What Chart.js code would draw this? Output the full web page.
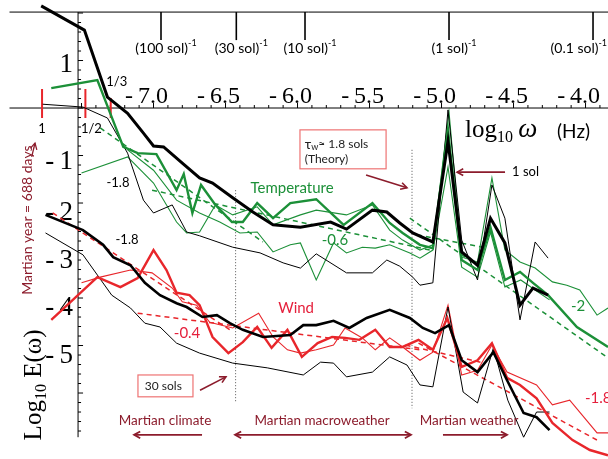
<!DOCTYPE html>
<html>
<head>
<meta charset="utf-8">
<script src="https://cdn.jsdelivr.net/npm/chart.js@4.4.0/dist/chart.umd.min.js"></script>
<style>
  html, body { margin: 0; padding: 0; background: #fff; }
  #spectra { display: block; }
</style>
</head>
<body>
<canvas id="spectra" width="608" height="459"></canvas>
<script>
// x = log10 omega (Hz), y = log10 E(omega)

// temperature spectra
const tempBlackX = [-7.78,-7.48,-7.32,-7.18,-7.07,-7.0,-6.93,-6.8,-6.68,-6.59,-6.45,-6.31,-6.17,-5.98,-5.77,-5.66,-5.48,-5.38,-5.29,-5.2,-5.06,-4.955,-4.86,-4.75,-4.66,-4.56,-4.455,-4.365,-4.26];
const tempBlackY = [2.15,1.64,0.23,-0.11,-0.53,-0.8,-0.82,-1.16,-1.47,-1.58,-1.89,-2.19,-2.46,-2.51,-2.4,-2.55,-2.15,-2.19,-2.42,-2.63,-2.82,-0.7,-3.03,-3.31,-2.32,-2.84,-4.15,-3.79,-3.94];
const tempBlackThinX = [-7.77,-7.49,-7.32,-7.18,-7.07,-7.0,-6.87,-6.77,-6.68,-6.45,-6.26,-6.1,-5.98,-5.87,-5.66,-5.48,-5.38,-5.29,-5.2,-5.15,-5.06,-4.955,-4.86,-4.75,-4.65,-4.56,-4.455,-4.35,-4.26];
const tempBlackThinY = [0.08,0.02,-0.21,-0.95,-1.94,-2.21,-2.04,-2.61,-2.69,-2.93,-3.05,-3.26,-3.37,-3.07,-3.47,-3.47,-3.2,-3.33,-3.56,-3.73,-3.68,-0.04,-2.78,-3.62,-1.62,-2.32,-4.46,-2.82,-3.16];
const tempGreenX = [-7.71,-7.39,-7.21,-7.11,-6.98,-6.84,-6.79,-6.73,-6.67,-6.57,-6.455,-6.38,-6.28,-6.17,-6.05,-5.87,-5.68,-5.48,-5.36,-5.27,-5.15,-5.06,-4.955,-4.86,-4.75,-4.66,-4.56,-4.455,-4.365,-4.26,-4.06,-3.844];
const tempGreenY = [0.42,0.59,-0.82,-0.95,-0.97,-1.73,-1.39,-2.21,-1.62,-2.04,-2.4,-2.4,-2.0,-2.32,-2.0,-1.92,-2.46,-2.0,-2.42,-2.63,-2.88,-2.95,-0.46,-3.2,-3.41,-2.51,-3.62,-3.45,-3.68,-3.94,-4.61,-5.03];
const tempGreenAX = [-7.5,-7.18,-7.0,-6.84,-6.77,-6.68,-6.57,-6.45,-6.28,-6.17,-5.98,-5.87,-5.66,-5.48,-5.36,-5.27,-5.15,-5.06,-4.948,-4.86,-4.75,-4.65,-4.56,-4.455,-4.35,-4.23,-4.13,-4.04,-3.92,-3.844];
const tempGreenAY = [-1.37,-1.03,-1.58,-2.4,-2.63,-2.61,-2.04,-2.25,-2.08,-2.46,-2.25,-2.15,-2.25,-2.04,-2.57,-2.78,-2.99,-2.88,-0.08,-3.14,-3.24,-1.47,-2.99,-3.24,-3.37,-3.66,-3.73,-3.83,-4.36,-4.21];
const tempGreenBX = [-7.18,-7.0,-6.84,-6.68,-6.54,-6.4,-6.28,-6.17,-6.05,-5.98,-5.87,-5.75,-5.66,-5.55,-5.46,-5.36,-5.22,-5.15,-5.06,-4.955,-4.86,-4.75,-4.66,-4.56,-4.45,-4.35,-4.25];
const tempGreenBY = [-0.88,-1.31,-1.94,-2.21,-2.4,-2.63,-2.61,-3.03,-2.88,-2.84,-3.62,-2.84,-3.05,-2.93,-2.95,-2.88,-3.05,-3.16,-2.99,-1.24,-3.35,-3.56,-2.61,-3.77,-3.62,-3.83,-4.04];

// temperature power-law fits (end points)
const tempFit1X = [-7.37,-6.24], tempFit1Y = [-0.42,-2.82];
const tempFit2X = [-7.01,-5.08], tempFit2Y = [-1.73,-2.99];
const tempFit3X = [-5.22,-3.844], tempFit3Y = [-2.32,-5.26];
const tempFit4X = [-5.17,-4.68], tempFit4Y = [-2.67,-2.95];

// wind spectra
const windBlackX = [-7.75,-7.49,-7.35,-7.28,-7.16,-7.06,-6.955,-6.84,-6.77,-6.66,-6.56,-6.47,-6.38,-6.24,-6.05,-5.96,-5.87,-5.75,-5.64,-5.52,-5.36,-5.22,-5.13,-5.045,-4.948,-4.86,-4.75,-4.64,-4.545,-4.43,-4.34,-4.25];
const windBlackY = [-2.25,-2.57,-2.88,-3.14,-3.31,-3.68,-3.94,-4.11,-4.19,-4.4,-4.36,-4.53,-4.67,-4.82,-4.78,-4.57,-4.57,-4.48,-4.63,-4.42,-4.25,-4.42,-4.63,-4.74,-4.57,-5.31,-5.56,-5.14,-5.73,-6.42,-6.51,-6.78];
const windBlackThinX = [-7.75,-7.49,-7.29,-7.16,-7.06,-6.955,-6.84,-6.68,-6.45,-6.21,-5.96,-5.84,-5.75,-5.66,-5.48,-5.36,-5.24,-5.15,-5.06,-4.955,-4.85,-4.75,-4.64,-4.54,-4.43,-4.34,-4.25];
const windBlackThinY = [-2.63,-3.09,-3.94,-4.21,-4.53,-4.61,-4.95,-5.16,-5.37,-5.47,-5.62,-5.35,-5.37,-5.66,-5.56,-5.24,-5.41,-5.83,-5.87,-4.19,-5.98,-6.21,-5.05,-6.15,-6.93,-6.4,-6.4];
const windRedX = [-7.71,-7.39,-7.23,-7.11,-7.0,-6.91,-6.84,-6.75,-6.68,-6.59,-6.48,-6.38,-6.28,-6.18,-6.07,-5.97,-5.86,-5.76,-5.67,-5.57,-5.46,-5.36,-5.27,-5.16,-5.06,-4.96,-4.86,-4.75,-4.65,-4.545,-4.455,-4.34,-4.23,-4.09,-3.97,-3.844];
const windRedY = [-4.46,-3.56,-3.77,-3.58,-2.99,-3.41,-3.89,-3.94,-4.15,-4.82,-5.16,-4.93,-4.61,-5.05,-4.67,-5.24,-4.95,-4.82,-4.84,-4.88,-4.67,-5.03,-5.03,-4.88,-5.09,-4.42,-5.45,-5.31,-4.95,-5.68,-5.83,-6.11,-6.63,-6.99,-7.2,-7.31];
const windRedThinX = [-7.5,-7.37,-7.16,-7.01,-6.87,-6.8,-6.7,-6.61,-6.45,-6.27,-6.17,-6.07,-5.98,-5.87,-5.75,-5.67,-5.55,-5.46,-5.36,-5.27,-5.15,-5.06,-4.955,-4.86,-4.75,-4.65,-4.545,-4.34,-4.23,-4.11,-3.92,-3.844];
const windRedThinY = [-3.68,-3.56,-3.41,-3.47,-3.79,-4.08,-4.15,-4.51,-4.63,-4.32,-4.82,-5.09,-5.16,-5.09,-4.99,-4.63,-4.84,-5.09,-4.84,-5.03,-5.31,-5.14,-4.15,-5.62,-5.52,-4.99,-5.56,-5.83,-6.25,-6.15,-6.84,-6.84];

// wind power-law fits (end points)
const windFit1X = [-7.7,-6.47], windFit1Y = [-2.21,-4.67];
const windFit2X = [-7.11,-5.15], windFit2Y = [-4.32,-5.09];
const windFit3X = [-5.16,-3.92], windFit3Y = [-4.95,-6.99];
const windFit4X = [-5.25,-4.73], windFit4Y = [-4.99,-5.35];

// scale breaks (30 sols, theory 1.8 sols) and Martian year harmonics
const breakX = [-6.43, -5.205];
const breakTop = [-1.73, -0.88];
const breakBottom = [-6.21, -6.32];
const yearX = [-7.774, -7.473, -7.297];
const yearTop = [0.4, 0.4, 0.21];
const yearLabels = ['1', '1/2', '1/3'];

// axis ticks
const solTicks = [-6.948, -6.425, -5.948, -4.948, -3.948];
const solLabels = ['(100 sol)', '(30 sol)', '(10 sol)', '(1 sol)', '(0.1 sol)'];
const xTicks = [-7.0, -6.5, -6.0, -5.5, -5.0, -4.5, -4.0];
const yTicks = [1, -1, -2, -3, -4, -5];

const BLACK = '#000000';
const GREEN = '#1c9038';
const RED = '#e8262b';
const MAROON = '#8c1c2c';
const SERIF = '"Liberation Serif", "DejaVu Serif", serif';
const SANS = 'Lato, "Liberation Sans", sans-serif';

let pts = function(xs, ys) {
  return xs.map((x, i) => ({ x: x, y: ys[i] }));
};

let line = function(xs, ys, color, width, dash) {
  return {
    data: pts(xs, ys),
    showLine: true,
    borderColor: color,
    backgroundColor: color,
    borderWidth: width,
    borderDash: dash || [],
    pointRadius: 0,
    fill: false
  };
};

const datasets = [
  line(tempBlackX, tempBlackY, BLACK, 3),
  line(windBlackX, windBlackY, BLACK, 2.6),
  line(tempGreenX, tempGreenY, GREEN, 2.4),
  line(windRedX, windRedY, RED, 2.4),
  line(tempBlackThinX, tempBlackThinY, BLACK, 1),
  line(windBlackThinX, windBlackThinY, BLACK, 1),
  line(tempGreenAX, tempGreenAY, GREEN, 1.1),
  line(tempGreenBX, tempGreenBY, GREEN, 1.1),
  line(windRedThinX, windRedThinY, RED, 1.1),
  line(tempFit1X, tempFit1Y, GREEN, 1.5, [5, 4]),
  line(tempFit2X, tempFit2Y, GREEN, 1.5, [5, 4]),
  line(tempFit3X, tempFit3Y, GREEN, 1.5, [5, 4]),
  line(tempFit4X, tempFit4Y, GREEN, 1.5, [5, 4]),
  line(windFit1X, windFit1Y, RED, 1.5, [5, 4]),
  line(windFit2X, windFit2Y, RED, 1.5, [5, 4]),
  line(windFit3X, windFit3Y, RED, 1.5, [5, 4]),
  line(windFit4X, windFit4Y, RED, 1.5, [5, 4])
];
breakX.forEach((x, i) => {
  datasets.push(line([x, x], [breakTop[i], breakBottom[i]], '#555555', 1, [1, 2]));
});
yearX.forEach((x, i) => {
  datasets.push(line([x, x], [yearTop[i], -0.21], RED, 2));
});

let arrowHead = function(ctx, x, y, ang, size) {
  ctx.beginPath();
  ctx.moveTo(x - size * Math.cos(ang - 0.5), y - size * Math.sin(ang - 0.5));
  ctx.lineTo(x, y);
  ctx.lineTo(x - size * Math.cos(ang + 0.5), y - size * Math.sin(ang + 0.5));
  ctx.stroke();
};

let arrow = function(ctx, x1, y1, x2, y2, width, both) {
  ctx.save();
  ctx.strokeStyle = MAROON;
  ctx.lineWidth = width;
  ctx.beginPath();
  ctx.moveTo(x1, y1);
  ctx.lineTo(x2, y2);
  ctx.stroke();
  const ang = Math.atan2(y2 - y1, x2 - x1);
  arrowHead(ctx, x2, y2, ang, 7);
  if (both) arrowHead(ctx, x1, y1, ang + Math.PI, 7);
  ctx.restore();
};

// draws a run of text pieces [text, font, dy] starting at x
let runText = function(ctx, parts, x, y, align) {
  let total = 0;
  parts.forEach(p => { ctx.font = p[1]; total += ctx.measureText(p[0]).width; });
  let cx = align === 'center' ? x - total / 2 : (align === 'right' ? x - total : x);
  parts.forEach(p => {
    ctx.font = p[1];
    ctx.fillText(p[0], cx, y + (p[2] || 0));
    cx += ctx.measureText(p[0]).width;
  });
};

const figure = {
  id: 'figure',
  beforeDraw(chart) {
    const ctx = chart.ctx;
    ctx.save();
    ctx.fillStyle = '#ffffff';
    ctx.fillRect(0, 0, chart.width, chart.height);
    ctx.restore();
  },
  beforeDatasetsDraw(chart) {
    const ctx = chart.ctx;
    const sx = chart.scales.x, sy = chart.scales.y;
    const X = v => sx.getPixelForValue(v), Y = v => sy.getPixelForValue(v);
    ctx.save();
    ctx.strokeStyle = BLACK;
    ctx.fillStyle = BLACK;
    ctx.lineWidth = 1;

    // top frequency axis in sols
    ctx.beginPath();
    ctx.moveTo(X(-8.0), Y(2.02));
    ctx.lineTo(chart.width, Y(2.02));
    ctx.stroke();
    ctx.lineWidth = 1.6;
    solTicks.forEach((v, i) => {
      ctx.beginPath();
      ctx.moveTo(X(v), Y(2.02));
      ctx.lineTo(X(v), Y(1.43));
      ctx.stroke();
      ctx.textBaseline = 'middle';
      const last = i === solTicks.length - 1;
      const parts = [[solLabels[i], '14px ' + SANS, 0], ['-1', '9px ' + SANS, -5]];
      runText(ctx, parts, last ? chart.width - 1 : X(v) + 5, Y(1.26), last ? 'right' : 'center');
    });

    // x axis through y = 0
    ctx.lineWidth = 1;
    ctx.beginPath();
    ctx.moveTo(X(-8.0), Y(0));
    ctx.lineTo(chart.width, Y(0));
    ctx.stroke();
    for (let k = -75; k <= -39; k++) {
      const v = k / 10;
      const len = k % 5 === 0 ? 5 : 3;
      ctx.beginPath();
      ctx.moveTo(X(v), Y(0));
      ctx.lineTo(X(v), Y(0) - len);
      ctx.stroke();
    }
    ctx.textBaseline = 'middle';
    ctx.textAlign = 'center';
    ctx.font = '24px ' + SERIF;
    xTicks.forEach(v => {
      ctx.fillText('-\u2009' + Math.abs(v).toFixed(1), X(v) - 7, Y(0) - 11);
    });

    // y axis
    const ax = X(-7.524);
    ctx.beginPath();
    ctx.moveTo(ax, Y(2.02));
    ctx.lineTo(ax, Y(-6.93));
    ctx.stroke();
    for (let k = -34; k <= 10; k++) {
      const v = k / 5;
      const len = k % 5 === 0 ? 5 : 3;
      ctx.beginPath();
      ctx.moveTo(ax, Y(v));
      ctx.lineTo(ax + len, Y(v));
      ctx.stroke();
    }
    ctx.textAlign = 'right';
    ctx.font = '27px ' + SERIF;
    yTicks.forEach(v => {
      const txt = v < 0 ? '-\u2009' + Math.abs(v) : String(v);
      const nudge = v > 0 ? 4 : (v === -1 ? 6 : 10);
      ctx.fillText(txt, ax - 5, Y(v) + nudge);
    });
    ctx.restore();
  },
  afterDatasetsDraw(chart) {
    const ctx = chart.ctx;
    const sx = chart.scales.x, sy = chart.scales.y;
    const X = v => sx.getPixelForValue(v), Y = v => sy.getPixelForValue(v);
    ctx.save();
    ctx.textBaseline = 'middle';
    ctx.textAlign = 'left';

    // axis titles
    ctx.fillStyle = BLACK;
    ctx.textBaseline = 'alphabetic';
    runText(ctx, [['log', '25px ' + SERIF, 0], ['10', '16px ' + SERIF, 5], ['\u2009\u03c9', 'italic 27px ' + SERIF, 0]],
      X(-4.837), Y(-0.6), 'left');
    ctx.font = '19px ' + SANS;
    ctx.fillText('(Hz)', X(-4.198), Y(-0.63));

    ctx.save();
    ctx.translate(X(-7.837) + 8, Y(-5.83));
    ctx.rotate(-Math.PI / 2);
    runText(ctx, [['Log', '25px ' + SERIF, 0], ['10', '16px ' + SERIF, 5], [' E(\u03c9)', '25px ' + SERIF, 0]], 0, 0, 'center');
    ctx.restore();

    ctx.save();
    ctx.fillStyle = MAROON;
    ctx.translate(X(-7.879) + 5, Y(-2.36));
    ctx.rotate(-Math.PI / 2);
    ctx.font = '14px ' + SANS;
    ctx.textAlign = 'center';
    ctx.fillText('Martian year = 688 days', 0, 0);
    ctx.restore();
    arrow(ctx, X(-7.846), Y(-1.03), X(-7.823), Y(-0.74), 1.3, false);

    ctx.textBaseline = 'middle';
    ctx.textAlign = 'center';

    // harmonics labels
    ctx.fillStyle = BLACK;
    ctx.font = '13px ' + SANS;
    ctx.fillText(yearLabels[0], X(yearX[0]), Y(-0.44));
    ctx.fillText(yearLabels[1], X(yearX[1]) + 6, Y(-0.44));
    ctx.fillText(yearLabels[2], X(yearX[2]) + 6, Y(0.55));

    // slopes
    ctx.fillText('-1.8', X(-7.247), Y(-1.58));
    ctx.fillText('-1.8', X(-7.184), Y(-2.78));
    ctx.font = '15px ' + SANS;
    ctx.fillStyle = GREEN;
    ctx.fillText('Temperature', X(-6.038), Y(-1.68));
    ctx.fillText('-0.6', X(-5.74), Y(-2.78));
    ctx.fillText('-2', X(-4.052), Y(-4.17));
    ctx.fillStyle = '#e5203c';
    ctx.fillText('Wind', X(-6.01), Y(-4.21));
    ctx.fillText('-0.4', X(-6.767), Y(-4.74));
    ctx.textAlign = 'left';
    ctx.fillText('-1.8', X(-4.004), Y(-6.11));

    // 1 sol peak
    ctx.fillStyle = BLACK;
    ctx.font = '13px ' + SANS;
    ctx.fillText('1 sol', X(-4.51), Y(-1.35));
    arrow(ctx, X(-4.559), Y(-1.35), X(-4.892), Y(-1.35), 1.6, false);

    // theory box
    ctx.strokeStyle = '#ee7373';
    ctx.lineWidth = 1.2;
    ctx.strokeRect(X(-5.983), Y(-0.46), X(-5.385) - X(-5.983), Y(-1.28) - Y(-0.46));
    ctx.fillStyle = '#222222';
    runText(ctx, [['\u03c4', '14px ' + SANS, 0], ['w', '9px ' + SANS, 3], ['\u2248 1.8 sols', '12px ' + SANS, 0]],
      X(-5.95), Y(-0.77), 'left');
    ctx.font = '12px ' + SANS;
    ctx.fillText('(Theory)', X(-5.95), Y(-1.08));
    arrow(ctx, X(-5.524), Y(-1.41), X(-5.24), Y(-1.68), 1.6, false);

    // 30 sols box
    ctx.strokeStyle = '#ee7373';
    ctx.strokeRect(X(-7.108), Y(-5.62), X(-6.726) - X(-7.108), Y(-6.08) - Y(-5.62));
    ctx.fillStyle = '#222222';
    ctx.fillText('30 sols', X(-7.06), Y(-5.85));
    arrow(ctx, X(-6.677), Y(-5.94), X(-6.497), Y(-5.66), 1.6, false);

    // regimes
    ctx.fillStyle = MAROON;
    ctx.font = '13.5px ' + SANS;
    ctx.textAlign = 'center';
    ctx.fillText('Martian climate', X(-6.92), Y(-6.59));
    ctx.fillText('Martian macroweather', X(-5.83), Y(-6.59));
    ctx.fillText('Martian weather', X(-4.809), Y(-6.59));
    arrow(ctx, X(-6.663), Y(-6.88), X(-7.135), Y(-6.88), 1.8, false);
    arrow(ctx, X(-6.434), Y(-6.88), X(-5.212), Y(-6.88), 1.8, true);
    arrow(ctx, X(-4.99), Y(-6.88), X(-4.545), Y(-6.88), 1.8, false);
    ctx.restore();
  }
};

new Chart(document.getElementById('spectra'), {
  type: 'scatter',
  data: { datasets: datasets },
  options: {
    responsive: false,
    animation: false,
    events: [],
    layout: { padding: 0 },
    plugins: { legend: { display: false }, tooltip: { enabled: false } },
    scales: {
      x: { type: 'linear', min: -8.066, max: -3.844, display: false },
      y: { type: 'linear', min: -7.389, max: 2.274, display: false }
    },
    elements: { line: { tension: 0 } }
  },
  plugins: [figure]
});
</script>
</body>
</html>
